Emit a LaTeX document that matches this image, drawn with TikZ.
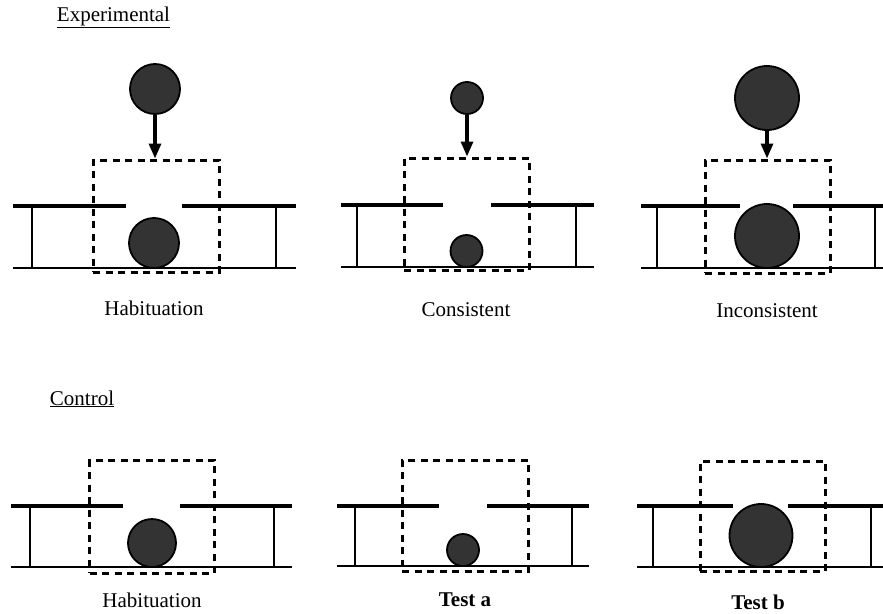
\documentclass[tikz,border=0pt]{standalone}
\usepackage{fontspec}
\setmainfont{Liberation Serif}
\usetikzlibrary{arrows.meta}
\definecolor{ballgray}{HTML}{333333}
\tikzset{
  ball/.style={circle, draw=black, line width=1.8pt, fill=ballgray, inner sep=0pt},
  dbox/.style={draw=black, line width=3pt, dash pattern=on 7pt off 5.5pt, inner sep=0pt, rectangle},
  arr/.style={line width=3.2pt, -{Triangle[length=15pt, width=12pt]}},
  plat/.style={line width=3.6pt},
  floorline/.style={line width=2.6pt},
  post/.style={line width=2.6pt},
  lab/.style={font=\fontsize{21}{24}\selectfont, inner sep=0pt},
  head/.style={font=\fontsize{21}{24}\selectfont, inner sep=0pt, anchor=base}
}
\begin{document}
\begin{tikzpicture}[x=1pt, y=-1pt]
\useasboundingbox (0,0) rectangle (883,613);

% Headings
\node[head] (hexp) at (113.5,21) {\underline{Experimental}};
\node[head] (hctl) at (82,405) {\underline{Control}};

% ---------- Panel 1: Experimental Habituation ----------
\node[dbox, minimum width=126pt, minimum height=112pt] (b1) at (156,216) {};
\draw[plat] (13,206) -- (126,206);
\draw[plat] (182,206) -- (296,206);
\draw[floorline] (13,268) -- (296,268);
\draw[post] (32,206) -- (32,268);
\draw[post] (276,206) -- (276,268);
\node[ball, minimum size=50pt] (t1) at (155,89) {};
\node[ball, minimum size=50pt] (d1) at (154,243) {};
\draw[arr] (t1.south) -- (t1.south |- b1.north);
\node[lab] (l1) at (154,308) {Habituation};

% ---------- Panel 2: Consistent ----------
\node[dbox, minimum width=125pt, minimum height=112pt] (b2) at (466.5,214) {};
\draw[plat] (341,205) -- (443,205);
\draw[plat] (491,205) -- (594,205);
\draw[floorline] (341,267) -- (594,267);
\draw[post] (357,205) -- (357,267);
\draw[post] (576,205) -- (576,267);
\node[ball, minimum size=32pt] (t2) at (467,98) {};
\node[ball, minimum size=32pt] (d2) at (466.5,251) {};
\draw[arr] (t2.south) -- (t2.south |- b2.north);
\node[lab] (l2) at (466,310) {Consistent};

% ---------- Panel 3: Inconsistent ----------
\node[dbox, minimum width=125pt, minimum height=113pt] (b3) at (767.5,216.5) {};
\draw[plat] (641,206) -- (740,206);
\draw[plat] (793,206) -- (883,206);
\draw[floorline] (641,268) -- (883,268);
\draw[post] (657,206) -- (657,268);
\draw[post] (875,206) -- (875,268);
\node[ball, minimum size=64pt] (t3) at (767,98) {};
\node[ball, minimum size=64pt] (d3) at (767,236) {};
\draw[arr] (t3.south) -- (t3.south |- b3.north);
\node[lab] (l3) at (767,311) {Inconsistent};

% ---------- Panel 4: Control Habituation ----------
\node[dbox, minimum width=125pt, minimum height=113pt] (b4) at (152,516.5) {};
\draw[plat] (11,506) -- (123,506);
\draw[plat] (180,506) -- (292,506);
\draw[floorline] (11,567) -- (292,567);
\draw[post] (30,506) -- (30,567);
\draw[post] (274,506) -- (274,567);
\node[ball, minimum size=48pt] (d4) at (152,543) {};
\node[lab] (l4) at (152,600) {Habituation};

% ---------- Panel 5: Test a ----------
\node[dbox, minimum width=126pt, minimum height=111pt] (b5) at (465,515.5) {};
\draw[plat] (337,506) -- (439,506);
\draw[plat] (487,506) -- (589,506);
\draw[floorline] (337,566) -- (589,566);
\draw[post] (355,506) -- (355,566);
\draw[post] (572,506) -- (572,566);
\node[ball, minimum size=32pt] (d5) at (463,550) {};
\node[lab] (l5) at (465,600) {\textbf{Test a}};

% ---------- Panel 6: Test b ----------
\node[dbox, minimum width=125pt, minimum height=110pt] (b6) at (762.5,516) {};
\draw[plat] (637,506) -- (733,506);
\draw[plat] (788,506) -- (883,506);
\draw[floorline] (637,567) -- (883,567);
\draw[post] (653,506) -- (653,567);
\draw[post] (871,506) -- (871,567);
\node[ball, minimum size=63pt] (d6) at (761,535.5) {};
\node[lab] (l6) at (758,602) {\textbf{Test b}};
\end{tikzpicture}
\end{document}
